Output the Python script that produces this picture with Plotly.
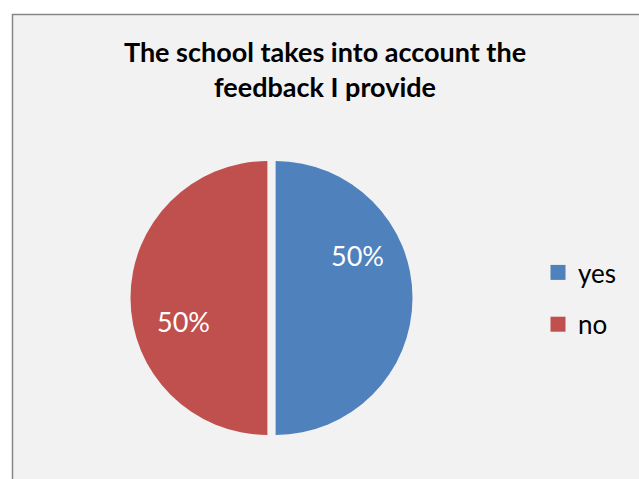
import plotly.graph_objects as go

categories = ["yes", "no"]
values = [50, 50]
colors = ["#4f81bd", "#c0504d"]
title_text = "The school takes into account the<br>feedback I provide"

W, H = 639, 479
total = sum(values)
pct_labels = [f"{round(v / total * 100)}%" for v in values]

fig = go.Figure()

# Chart area background and border
fig.add_shape(type="rect", xref="paper", yref="paper",
              x0=12.5 / W, x1=1.02, y0=-0.02, y1=1 - 14.5 / H,
              fillcolor="#f2f2f2", line=dict(color="#878787", width=1.5),
              layer="below")

fig.add_trace(go.Pie(
    labels=categories, values=values, sort=False, direction="clockwise",
    rotation=0, pull=[0.03, 0.03],
    marker=dict(colors=colors, line=dict(width=0)),
    textinfo="none", hoverinfo="label+percent", showlegend=False,
    domain=dict(x=[130.5 / W, 412.5 / W], y=[1 - 439 / H, 1 - 157 / H]),
))

# Legend entries via square markers
for cat, col in zip(categories, colors):
    fig.add_trace(go.Scatter(
        x=[None], y=[None], mode="markers", name=cat, legendgroup=cat,
        marker=dict(symbol="square", size=15, color=col),
    ))

# Percent labels
label_pos = [(357, 256), (183, 321)]
for txt, (px, py) in zip(pct_labels, label_pos):
    fig.add_annotation(x=px / W, y=1 - py / H, xref="paper", yref="paper",
                       xanchor="center", yanchor="middle",
                       text=txt, showarrow=False,
                       font=dict(family="Lato", size=27, color="white"))

fig.update_layout(
    width=W, height=H,
    margin=dict(l=0, r=0, t=0, b=0),
    paper_bgcolor="white", plot_bgcolor="rgba(0,0,0,0)",
    xaxis=dict(visible=False), yaxis=dict(visible=False),
    title=dict(text=title_text, x=325 / W, xanchor="center",
               y=1 - 62 / H, yanchor="top",
               font=dict(family="Lato", size=27, color="black", weight="bold")),
    legend=dict(x=538 / W, xanchor="left", y=1 - 249 / H, yanchor="top",
                font=dict(family="Lato", size=26, color="black"),
                bgcolor="rgba(0,0,0,0)", tracegroupgap=15),
    showlegend=True,
)

fig.write_html("out.html", config={"displayModeBar": False},
               post_script="document.body.style.margin='0';")
